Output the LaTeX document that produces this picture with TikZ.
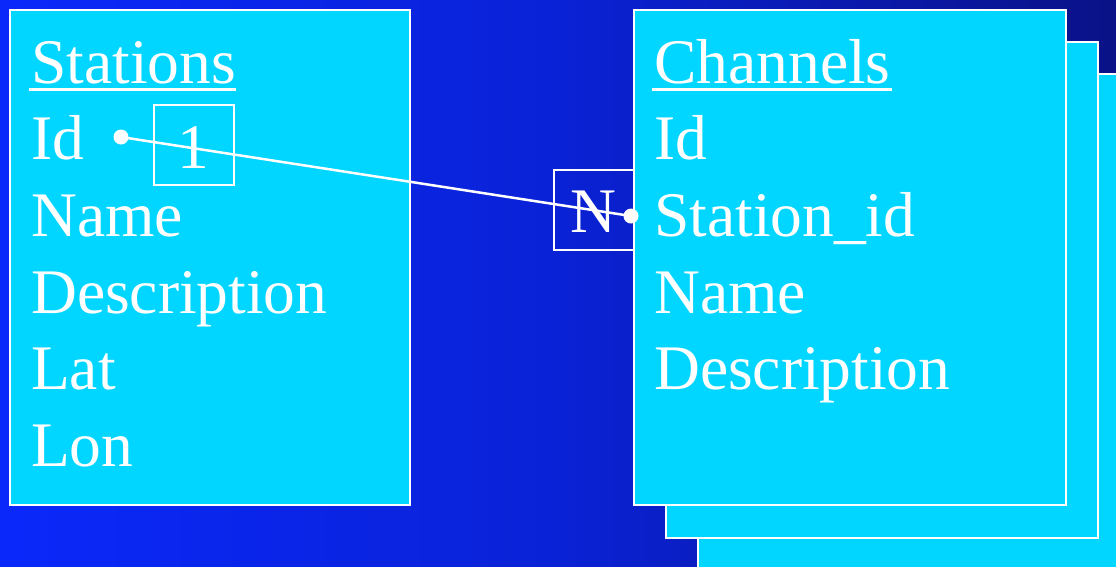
\documentclass[tikz,border=0pt]{standalone}
\usepackage{fontspec}
\setmainfont{Liberation Serif}
\definecolor{tcyan}{RGB}{0,214,255}
\definecolor{bgleft}{RGB}{10,40,250}
\definecolor{bgmid}{RGB}{10,34,214}
\definecolor{bgright}{RGB}{10,18,135}
\tikzset{
  table/.style={draw=white, line width=2pt, fill=tcyan, anchor=north west, inner sep=0pt},
  tag/.style={draw=white, line width=2pt, anchor=north west, inner sep=0pt, minimum width=80pt, minimum height=80pt},
  txt/.style={text=white, anchor=base west, inner sep=0pt, font=\fontsize{63.5}{76}\selectfont},
  uline/.style={white, line width=3pt},
  dot/.style={circle, fill=white, inner sep=0pt, minimum size=15pt},
  link/.style={white, line width=2.5pt}
}
\begin{document}
\begin{tikzpicture}[x=1pt,y=-1pt]
\useasboundingbox (0,0) rectangle (1116,566);
\shade[left color=bgleft, right color=bgright, middle color=bgmid] (0,0) rectangle (1116,566);
% Stations table
\node[table, minimum width=400pt, minimum height=495pt] (stations) at (9,9) {};
\node[txt] (stitle) at (31,83) {Stations};
\draw[uline] (29,89) -- (236,89);
\node[txt] (sid) at (31,159) {Id};
\node[txt] (sname) at (31,236) {Name};
\node[txt] (sdesc) at (31,313) {Description};
\node[txt] (slat) at (31,389) {Lat};
\node[txt] (slon) at (31,466) {Lon};
\node[tag] (one) at (153,104) {};
\node[txt, anchor=base] (onet) at (193,168) {1};
% N tag
\node[tag] (many) at (553,169) {};
\node[txt, anchor=base] (manyt) at (593,232) {N};
% Channels stacked tables
\node[table, minimum width=440pt, minimum height=520pt] (ch3) at (697,73) {};
\node[table, minimum width=432pt, minimum height=496pt] (ch2) at (665,41) {};
\node[table, minimum width=432pt, minimum height=495pt] (channels) at (633,9) {};
\node[txt] (ctitle) at (654,83) {Channels};
\draw[uline] (652,89) -- (892,89);
\node[txt] (cid) at (654,159) {Id};
\node[txt] (csid) at (654,236) {Station\_id};
\node[txt] (cname) at (654,313) {Name};
\node[txt] (cdesc) at (654,389) {Description};
% relationship
\node[dot] (d1) at (121,137) {};
\node[dot] (d2) at (631,216) {};
\draw[link] (d1.center) -- (d2.center);
\end{tikzpicture}
\end{document}
